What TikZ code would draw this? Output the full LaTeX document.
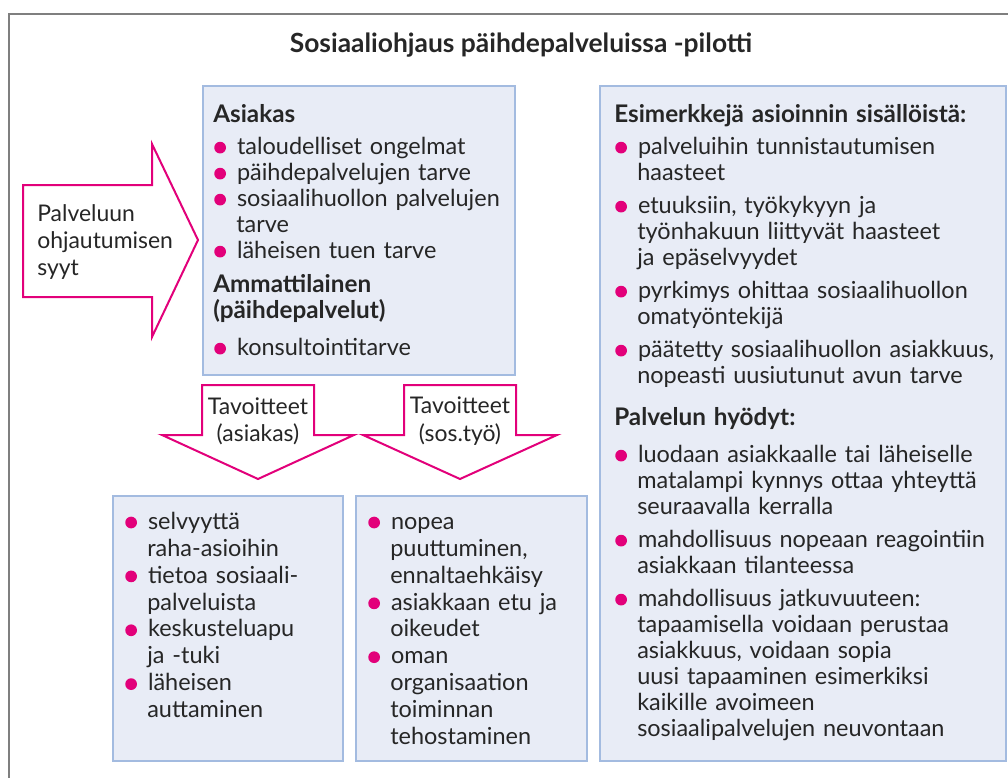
\documentclass[tikz,border=0pt]{standalone}
\usepackage{fontspec}
\setmainfont{Lato}
\usepackage{xcolor}

\definecolor{pinkline}{HTML}{E2007A}
\definecolor{boxfill}{HTML}{E8ECF6}
\definecolor{boxline}{HTML}{A3BBE0}
\definecolor{frameline}{HTML}{7F7F7F}
\definecolor{textcol}{HTML}{262626}

\newdimen\px \px=0.75pt
\newcommand{\pinkdot}{\tikz[baseline=0pt, x=1pt, y=1pt]\fill[pinkline] (0, 5) circle[radius=4.4];}
\newcommand{\boxhead}[1]{{\fontsize{18.2}{19.5}\selectfont\bfseries #1}}
\newenvironment{dotlist}[1]{\begin{list}{\pinkdot}{%
  \setlength{\leftmargin}{23\px}\setlength{\labelwidth}{11\px}%
  \setlength{\labelsep}{11\px}\setlength{\itemsep}{#1}%
  \setlength{\parsep}{0pt}\setlength{\topsep}{0pt}\setlength{\partopsep}{0pt}}}%
  {\end{list}}

\tikzset{
  infobox/.style={draw=boxline, fill=boxfill, line width=2\px},
  bigarrow/.style={draw=pinkline, fill=white, line width=2\px, line join=miter},
  listtext/.style={anchor=north west, inner sep=0pt, align=left, text=textcol,
    font=\fontsize{17.6}{19.5}\selectfont},
  arrowtext/.style={inner sep=0pt, text=textcol,
    font=\fontsize{17.2}{20.5}\selectfont}
}

\begin{document}
\begin{tikzpicture}[x=0.75pt, y=-0.75pt]
    \useasboundingbox (0, 0) rectangle (1008, 778);

    % frame and title
    \draw[frameline, line width=1.5\px] (9, 778) -- (9, 14) -- (1008, 14);
    \node[text=textcol, font=\fontsize{19.8}{23}\selectfont\bfseries] (title) at (521, 45) {Sosiaaliohjaus päihdepalveluissa -pilotti};

    % boxes
    \draw[infobox] (203, 86) rectangle (515, 375);
    \draw[infobox] (113, 496) rectangle (343, 761);
    \draw[infobox] (356, 496) rectangle (587, 761);
    \draw[infobox] (600, 86) rectangle (1006, 761);

    % arrows
    \draw[bigarrow] (23, 185) -- (152, 185) -- (152, 144) -- (198, 240) -- (152, 337) -- (152, 297) -- (23, 297) -- cycle;
    \draw[bigarrow] (202, 385) -- (314, 385) -- (314, 435) -- (354, 435) -- (258, 479) -- (162, 435) -- (202, 435) -- cycle;
    \draw[bigarrow] (404, 385) -- (516, 385) -- (516, 435) -- (557, 435) -- (460, 479) -- (363, 435) -- (404, 435) -- cycle;

    \node[arrowtext, anchor=west, align=left] (syyt) at (37, 242) {Palveluun\\ohjautumisen\\syyt};
    \node[arrowtext, align=center] (tavasiakas) at (258, 421) {Tavoitteet\\(asiakas)};
    \node[arrowtext, align=center] (tavsostyo) at (460, 421) {Tavoitteet\\(sos.työ)};

    % texts
    \node[listtext, text width=300\px] (asiakas) at (213, 104) {%
        \boxhead{Asiakas}\par\vspace{6\px}
        \begin{dotlist}{0pt}
        \item taloudelliset ongelmat
        \item päihdepalvelujen tarve
        \item sosiaalihuollon palvelujen\newline tarve
        \item läheisen tuen tarve
        \end{dotlist}\vspace{8\px}
        \boxhead{Ammattilainen}\newline\boxhead{(päihdepalvelut)}\par\vspace{11\px}
        \begin{dotlist}{0pt}
        \item konsultointitarve
        \end{dotlist}};

    \node[listtext, text width=225\px, font=\fontsize{17.6}{20.2}\selectfont] (tavoite1) at (124, 502) {%
        \begin{dotlist}{0pt}
        \item selvyyttä\newline raha-asioihin
        \item tietoa sosiaali-\newline palveluista
        \item keskusteluapu\newline ja -tuki
        \item läheisen\newline auttaminen
        \end{dotlist}};

    \node[listtext, text width=228\px, font=\fontsize{17.6}{20.2}\selectfont] (tavoite2) at (367, 502) {%
        \begin{dotlist}{0pt}
        \item nopea\newline puuttuminen,\newline ennaltaehkäisy
        \item asiakkaan etu ja\newline oikeudet
        \item oman\newline organisaation\newline toiminnan\newline tehostaminen
        \end{dotlist}};

    \node[listtext, text width=390\px] (esimerkit) at (614, 104) {%
        \boxhead{Esimerkkejä asioinnin sisällöistä:}\par\vspace{6\px}
        \begin{dotlist}{7\px}
        \item palveluihin tunnistautumisen\newline haasteet
        \item etuuksiin, työkykyyn ja\newline työnhakuun liittyvät haasteet\newline ja epäselvyydet
        \item pyrkimys ohittaa sosiaalihuollon\newline omatyöntekijä
        \item päätetty sosiaalihuollon asiakkuus,\newline nopeasti uusiutunut avun tarve
        \end{dotlist}\vspace{16\px}
        \boxhead{Palvelun hyödyt:}\par\vspace{11\px}
        \begin{dotlist}{7\px}
        \item luodaan asiakkaalle tai läheiselle\newline matalampi kynnys ottaa yhteyttä\newline seuraavalla kerralla
        \item mahdollisuus nopeaan reagointiin\newline asiakkaan tilanteessa
        \item mahdollisuus jatkuvuuteen:\newline tapaamisella voidaan perustaa\newline asiakkuus, voidaan sopia\newline uusi tapaaminen esimerkiksi\newline kaikille avoimeen\newline sosiaalipalvelujen neuvontaan
        \end{dotlist}};
\end{tikzpicture}
\end{document}
